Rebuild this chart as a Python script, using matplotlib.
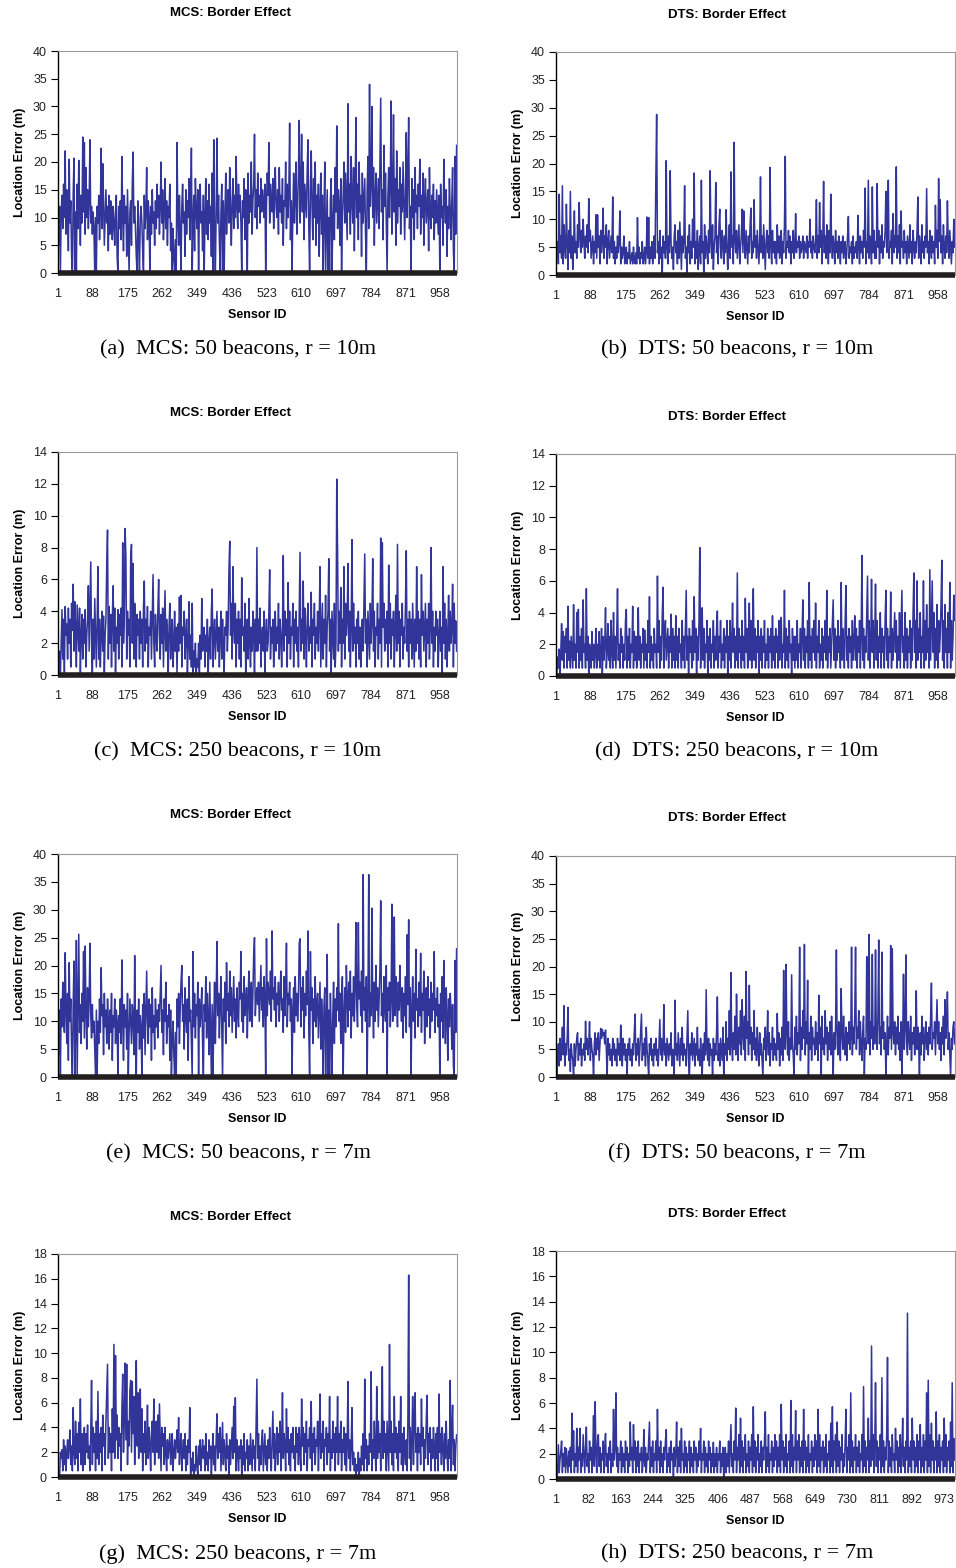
import matplotlib
matplotlib.use("Agg")
import matplotlib.pyplot as plt

# every other sensor (1, 3, 5, ..., 999); each row below covers 50 sensor ids
sensor_ids = list(range(1, 1000, 2))

mcs_50_r10 = [
    17, 5, 12, 0, 11, 14, 8, 16, 10, 22, 7, 15, 12, 4, 20.5, 9, 13, 3, 0, 14, 20.7, 0, 11, 0, 16,
    8, 20.3, 12, 5, 14, 9, 24.5, 11, 23.5, 7, 19, 10, 15, 8, 13, 24, 9, 12, 7, 11, 8, 0, 10, 0, 12,
    9, 14, 6, 11, 22.5, 8, 19.7, 13, 5, 10, 15, 9, 12, 4, 14, 7, 13, 10, 6, 12, 9, 5, 11, 14, 3,
    0, 12, 8, 13, 6, 21, 10, 4, 14, 9, 12, 3, 15, 7, 0, 11, 13, 5, 16, 21.8, 9, 12, 8, 3, 0,
    13, 6, 0, 10, 12, 9, 4, 0, 14, 8, 11, 19, 6, 13, 10, 0, 12, 7, 15, 9, 11, 5, 13, 8, 16,
    10, 14, 7, 12, 20, 9, 15, 6, 11, 17, 8, 13, 5, 12, 10, 16, 4, 9, 0, 8, 3, 0, 6, 0, 23.5,
    10, 5, 14, 8, 0, 12, 16, 9, 11, 3, 15, 7, 13, 10, 17, 6, 12, 22.5, 0, 9, 14, 4, 17, 11, 8,
    15, 0, 12, 16, 9, 11, 4, 14, 0, 10, 17, 7, 13, 6, 16, 9, 12, 3, 18, 0, 24, 8, 0, 11, 24.3,
    9, 14, 6, 0, 11, 16, 0, 13, 0, 10, 18, 7, 12, 15, 9, 19, 11, 5, 13, 17, 8, 14, 10, 21, 12,
    8, 16, 11, 14, 9, 0, 13, 10, 17, 6, 15, 12, 0, 18, 9, 14, 11, 20, 7, 13, 16, 25, 10, 15, 8,
    18, 12, 14, 9, 17, 11, 15, 13, 10, 16, 0, 12, 18, 14, 23.5, 9, 16, 13, 11, 17, 8, 14, 19, 12, 10,
    15, 7, 19, 11, 14, 9, 17, 5, 13, 12, 20, 8, 16, 10, 15, 27, 6, 13, 0, 11, 18, 9, 14, 20, 7,
    12, 18, 27.5, 9, 14, 25, 11, 20, 6, 16, 13, 10, 19, 24, 8, 0, 15, 22, 12, 6, 17, 10, 20, 5, 14,
    9, 16, 3, 12, 18, 7, 14, 0, 11, 20, 0, 8, 15, 0, 10, 0, 13, 17, 0, 9, 14, 6, 19, 11, 26.5,
    8, 15, 12, 5, 17, 0, 10, 14, 20, 9, 18, 12, 6, 30.5, 11, 16, 7, 21, 13, 9, 19, 4, 15, 28, 10,
    16, 6, 20, 11, 14, 3, 18, 9, 13, 17, 7, 0, 15, 21, 8, 34, 12, 16, 30, 10, 19, 5, 14, 18, 9,
    13, 17, 8, 20, 31.5, 11, 15, 6, 23, 12, 18, 9, 0, 14, 19, 10, 16, 31, 7, 13, 28.5, 11, 17, 5, 22,
    9, 15, 12, 19, 7, 16, 11, 20, 13, 6, 14, 25.3, 10, 18, 28, 8, 12, 0, 17, 10, 15, 6, 19, 11, 14,
    8, 16, 12, 20.5, 7, 14, 10, 18, 5, 13, 17, 9, 12, 15, 4, 19, 11, 8, 14, 10, 16, 6, 13, 9, 15,
    11, 7, 14, 0, 16, 10, 12, 5, 20.5, 13, 9, 15, 3, 12, 8, 17, 11, 6, 13, 19, 4, 0, 21, 7, 23,
]

dts_50_r10 = [
    8, 3, 6, 2, 14.5, 4, 7, 3, 16, 2, 9, 5, 3, 12.7, 6, 1, 8, 4, 15, 3, 7, 1, 5, 11.5, 4,
    6, 3, 9, 5, 13, 7, 4, 8, 5, 10, 6, 3, 7, 5, 9, 4, 13.7, 6, 8, 3, 5, 7, 2, 6, 4,
    10.8, 3, 10.8, 5, 7, 2, 8, 4, 6, 12, 3, 7, 5, 9, 2, 6, 8, 3, 5, 7, 4, 14, 3, 6, 2,
    5, 3, 7, 4, 6, 11.5, 2, 5, 3, 4, 7, 2, 3, 5, 2, 4, 3, 6, 2, 3, 4, 2, 5, 3, 2,
    4, 2, 10.3, 3, 5, 2, 4, 3, 6, 2, 3, 5, 2, 4, 10.4, 3, 10.3, 2, 5, 3, 6, 2, 4, 7, 3,
    17.5, 28.8, 4, 6, 2, 8, 3, 5, 0, 7, 4, 6, 3, 20.5, 5, 2, 7, 4, 18.7, 6, 3, 5, 1, 7, 9,
    4, 6, 2, 8, 3, 9.5, 5, 1, 7, 4, 6, 16, 3, 5, 0, 7, 4, 9, 2, 6, 3, 10, 5, 18.3, 2,
    6, 3, 8, 1, 5, 7, 2, 17, 4, 6, 0, 9, 3, 7, 5, 2, 8, 4, 18.7, 6, 3, 9, 1, 5, 7,
    16.6, 4, 7, 2, 9, 11.8, 5, 3, 8, 6, 2, 7, 4, 11.7, 5, 1, 6, 9, 3, 18.5, 5, 7, 2, 23.8, 6,
    4, 8, 3, 6, 9, 2, 5, 7, 11.8, 4, 11.5, 6, 3, 8, 5, 2, 7, 4, 9, 12, 3, 6, 4, 13.5, 5,
    7, 3, 8, 5, 2, 6, 17.6, 4, 7, 3, 9, 5, 1, 6, 8, 4, 7, 3, 19.3, 5, 2, 8, 4, 6, 3,
    6, 2, 9, 4, 7, 3, 5, 8, 2, 6, 4, 9, 21.3, 3, 6, 5, 8, 4, 7, 2, 6, 4, 8, 3, 5,
    11, 4, 6, 5, 7, 3, 6, 4, 5, 7, 3, 6, 5, 4, 7, 3, 6, 5, 10, 4, 6, 3, 7, 5, 4,
    6, 13.5, 3, 7, 4, 13, 5, 8, 2, 6, 16.8, 4, 7, 3, 9, 5, 2, 8, 4, 14.5, 6, 3, 7, 5, 2,
    8, 4, 6, 3, 7, 5, 2, 6, 4, 7, 3, 5, 6, 2, 4, 7, 10.5, 3, 5, 4, 6, 2, 7, 3, 5,
    4, 6, 3, 10.7, 5, 2, 7, 4, 6, 3, 8, 5, 15.6, 2, 6, 4, 17, 3, 7, 5, 2, 15.8, 4, 8, 3,
    6, 3, 16.4, 5, 8, 2, 7, 4, 9, 3, 6, 5, 8, 15, 4, 7, 17, 3, 6, 5, 8, 2, 11, 4, 7,
    5, 19.4, 3, 7, 4, 9, 2, 11.5, 5, 6, 3, 8, 4, 6, 2, 7, 5, 3, 9, 4, 6, 2, 8, 5, 3,
    6, 4, 8, 14, 3, 7, 5, 2, 9, 4, 6, 3, 7, 5, 15.5, 4, 6, 2, 8, 5, 3, 7, 4, 6, 2,
    12.5, 5, 8, 3, 17.3, 6, 13.5, 4, 7, 2, 9, 5, 3, 7, 4, 13.3, 6, 3, 8, 5, 2, 6, 4, 10, 5,
]

mcs_250_r10 = [
    2, 0, 1.5, 0, 2.2, 4.1, 1, 3.5, 0, 4.3, 2.5, 3.2, 1, 4.2, 2, 3.5, 0.5, 4.5, 2.8, 5.7, 1.5, 4.6, 3, 0.5, 4.4,
    3, 1.5, 4.2, 0, 2.5, 3.8, 1, 3.5, 2, 4.1, 0.5, 2.5, 3.5, 5.6, 1.5, 4.2, 7.1, 2, 0, 3.5, 1, 4.8, 2.5, 0.5, 3.3,
    6.8, 1, 3.5, 0.5, 2.5, 4, 1.5, 3.7, 0, 2.5, 3.5, 6.9, 9.1, 1, 4.3, 2, 3.8, 0.5, 3.5, 5.6, 1.5, 4.2, 0, 3, 2,
    4.1, 1, 3.8, 2.5, 4.2, 0.5, 8.3, 2, 3.5, 9.2, 7.4, 1, 4, 2.5, 3.5, 0.5, 7.4, 8.2, 2, 7, 1, 4.5, 3, 0.5, 3.8,
    2.5, 3.5, 1, 4, 2, 3.5, 0.5, 4.2, 5.9, 1.5, 3.5, 2, 4.3, 0.5, 3, 2.5, 4, 1, 3.5, 6.3, 2, 0.5, 3.8, 2.5, 1.5,
    4, 6, 2.5, 1, 3.8, 2, 4.2, 0.5, 3, 5.3, 1.5, 3.5, 2.5, 0, 3, 4.5, 1, 2.5, 3.5, 0.5, 2, 4, 1.5, 3, 0,
    3.2, 1.5, 4.9, 2, 5, 0.5, 3, 2.5, 4, 1, 2.5, 3.5, 0, 2, 4.6, 1, 2.5, 0.5, 4.5, 0, 1.5, 0.5, 2, 0, 1,
    0.5, 2, 0, 2.5, 1, 4.8, 1.5, 2, 3, 0.5, 2.5, 1.5, 3.5, 0, 2, 3, 1, 4, 5.4, 0.5, 2.5, 3.5, 1, 2.5, 4,
    1.5, 3, 0.5, 2.5, 4, 1, 3.5, 2, 0, 3, 2.5, 4, 1.5, 3, 6.6, 8.4, 2.5, 4.5, 1, 6.8, 3, 2, 4.5, 0.5, 3.5,
    2, 4, 1, 3.5, 0.5, 6.1, 2.5, 3, 1.5, 4.5, 0, 2.5, 3.5, 1, 4.8, 2, 0.5, 3, 1.5, 4, 2.5, 0, 3.5, 1.5, 8,
    1.5, 3.5, 2, 4.2, 0.5, 2.5, 3, 1.5, 4, 0, 2.5, 3.5, 1.5, 2, 4, 6.6, 1, 3, 2, 3.5, 0.5, 2.5, 4, 1.5, 3,
    2, 4.5, 1, 3.5, 2.5, 0.5, 3, 7.5, 1.5, 4, 2.5, 3.5, 0.5, 5.8, 2, 4, 1, 3, 2.5, 4.5, 0.5, 3.5, 2, 4, 1.5,
    3, 0.5, 4, 7.7, 1.5, 3.5, 2, 5.9, 1, 4.2, 2.5, 0.5, 3.5, 4.5, 1.5, 3, 2, 5.2, 0.5, 3.5, 2.5, 4.5, 1, 3, 2,
    4, 1.5, 3.5, 6.8, 0.5, 2.5, 4.5, 1, 3.5, 2, 5, 0.5, 3, 4, 7.3, 1.5, 3.5, 0, 4, 2.5, 1, 4.5, 0.5, 2, 12.3,
    7.8, 1.5, 4, 2, 5.5, 0.5, 3.5, 2, 6.8, 1, 4.5, 2.5, 3.5, 7, 1.5, 4, 0.5, 3, 8.5, 1.5, 4.5, 2, 3, 0.5, 3.5,
    2, 4, 1, 3, 0.5, 2.5, 3.5, 1.5, 4.5, 7.6, 2, 3.5, 0.5, 4, 2.5, 1, 4.5, 2, 3.5, 7.3, 1.5, 4, 0.5, 3, 2.5,
    4.5, 1, 3.5, 2, 8.6, 0.5, 8.3, 3, 4.5, 1.5, 3.5, 2, 4, 0.5, 6.9, 2, 4.5, 1, 3.5, 2.5, 4, 0.5, 3, 5, 1.5,
    8.2, 2, 4, 0.5, 3.5, 2.5, 4.5, 1, 3, 2, 4.5, 7.8, 1.5, 3.5, 0.5, 4, 2, 3.5, 1, 4.5, 2.5, 0.5, 3.5, 1.5, 6.8,
    2, 4, 1, 3.5, 0.5, 6.3, 2.5, 4, 1.5, 3, 4.5, 0.5, 3.5, 2, 4.5, 1, 3, 8, 2, 4, 0.5, 3, 1.5, 4, 2.5,
    3.5, 0.5, 2.5, 4, 1.5, 3, 0, 6.8, 2, 4.5, 1, 3.5, 0.5, 2.5, 5, 1.5, 4, 2, 3, 5.7, 0.5, 4.5, 2, 3.4, 1.5,
]

dts_250_r10 = [
    1.3, 0, 1.2, 0.5, 1.7, 0, 1.5, 3.3, 1, 2.8, 0.5, 2.5, 1.5, 3, 0.5, 4.4, 1, 2.2, 0.5, 2.5, 1.5, 0.5, 4.5, 1, 2,
    0.5, 4, 1.5, 4.2, 0.5, 2.5, 1, 3, 0.5, 4.8, 1.5, 2, 0.5, 5.5, 1, 2.5, 0, 2, 1.5, 0.5, 2.8, 1, 2, 0.5, 1.5,
    3, 0.5, 2, 1, 2.8, 0.5, 1.5, 3, 0, 2.5, 1, 2, 4.3, 0.5, 1.5, 3.3, 1, 2.5, 0.5, 3.5, 1.5, 0.5, 4, 1, 2.5,
    0.5, 2.5, 5.5, 1, 2, 0.5, 3, 1.5, 2.5, 0.5, 2, 1, 3.5, 4.2, 0.5, 2.5, 1, 3, 0.5, 2, 1.5, 4.4, 0.5, 2.8, 1,
    2.5, 0.5, 1.5, 4.3, 1, 2.5, 0.5, 2, 1.5, 3, 0.5, 2.9, 1, 2, 0.5, 3.5, 1.5, 5, 0.5, 2.5, 1, 2, 0.5, 3, 1.5,
    2, 0.5, 6.3, 1.5, 3.5, 0.5, 2.5, 1, 3.8, 5.6, 0.5, 2.5, 3.5, 1, 2, 3, 0.5, 2.5, 1.5, 3.9, 0.5, 3, 1, 2.5, 0.5,
    3.8, 1, 2.5, 0.5, 3, 1.5, 2, 0.5, 3.5, 1, 2.5, 0.5, 3, 5.4, 1, 2.5, 0, 3, 1.5, 2.5, 0.5, 3.5, 1, 5, 1.5,
    3, 0, 2.5, 1, 3.5, 8.1, 0.5, 2, 4.3, 1, 3, 0.5, 2, 1.5, 3.5, 0, 2.5, 1, 3, 0.5, 2, 1.5, 3.5, 0.5, 2.5,
    1, 3, 4.1, 0.5, 2.5, 1.5, 3.5, 0.5, 2, 1, 3, 0.5, 2.5, 1.5, 3.5, 0, 2.5, 1, 3.5, 0.5, 2, 4.6, 1.5, 3, 0.5,
    2.5, 1, 6.5, 0.5, 3, 1.5, 2.5, 0.5, 3.5, 1, 2.5, 0.5, 4.9, 1.5, 3, 0.5, 2, 4.6, 1, 3.5, 0.5, 2.5, 5.5, 1, 3,
    0.5, 2.5, 1.5, 3.5, 0, 2.5, 1, 3, 0.5, 2.5, 1.5, 3.5, 0.5, 2, 1, 3, 0.5, 2.5, 1.5, 3, 0.5, 3.8, 1, 2.5, 0.5,
    3, 1.5, 2.5, 0.5, 3.5, 1, 2.5, 3.7, 0.5, 2, 1.5, 5.4, 0.5, 3, 1, 2.5, 0.5, 3.5, 1.5, 2, 0, 3, 1, 2.5, 0.5,
    2.5, 1, 3.5, 0.5, 2, 1.5, 3, 0.5, 2.5, 4.8, 1, 3, 0.5, 2.5, 1.5, 3.5, 0.5, 5.9, 1, 2.5, 0.5, 3, 1.5, 3.5, 1,
    4.6, 0.5, 2.5, 1.5, 3.5, 0.5, 2, 1, 3, 0.5, 2.5, 1.5, 3.5, 1, 5.4, 0.5, 2.5, 1.5, 3, 0.5, 2, 3.5, 4.8, 1, 3,
    0.5, 2.5, 1, 3.5, 1.5, 2.5, 0.5, 5.9, 1, 3, 2, 0.5, 3.5, 5.7, 1, 2.5, 0.5, 3, 1.5, 2.5, 0.5, 3.5, 1, 2, 3.8,
    1, 3, 0.5, 2.5, 1.5, 3.5, 0.5, 2.5, 7.6, 1, 3, 0.5, 2.5, 1.5, 4, 6.3, 1, 3.5, 0.5, 2, 6.1, 1.5, 3.5, 0.5, 2.5,
    5.8, 1, 3.5, 0.5, 2.5, 1.5, 4, 0.5, 3, 1.5, 2.5, 0.5, 3.5, 5.4, 1, 3, 0.5, 2.5, 1.5, 5.3, 0.5, 3, 1, 2.5, 4,
    1.5, 3.5, 0.5, 2.5, 1, 4, 0.5, 3, 5.4, 1.5, 2.5, 0.5, 4, 1, 3, 0.5, 2.5, 1.5, 3.5, 0.5, 3, 1, 4, 6.5, 1.5,
    3.5, 0.5, 6, 1, 3, 1.5, 4, 0.5, 2.5, 1.5, 6, 0.5, 3.5, 1, 4.5, 1.5, 3, 0.5, 6.7, 1, 3.5, 6, 1.5, 4, 0.5,
    3, 1, 4.5, 0.5, 3.5, 1.5, 2.5, 4.5, 7.3, 1, 3.5, 0.5, 4.5, 1.5, 3, 0.5, 4, 1.5, 5.9, 0.5, 3.5, 1, 2.5, 5.1, 3.5,
]

mcs_50_r7 = [
    16, 4, 12, 0, 14, 9, 17, 11, 8, 22.3, 12, 6, 15, 3, 20.5, 10, 14, 5, 0, 13, 20.8, 0, 8, 24.5, 0,
    12, 25.6, 8, 13, 6, 15, 10, 22.5, 7, 23.5, 12, 5, 16, 9, 14, 24, 11, 7, 13, 8, 10, 5, 0, 12, 0,
    10, 6, 14, 8, 19.6, 11, 13, 4, 15, 9, 12, 6, 14, 10, 5, 12, 8, 15, 3, 11, 9, 14, 6, 12, 10,
    0, 11, 8, 14, 6, 21, 10, 3, 13, 9, 12, 5, 15, 0, 8, 14, 10, 6, 13, 11, 4, 21.8, 9, 0, 12,
    8, 14, 5, 11, 9, 0, 13, 7, 15, 4, 12, 19, 10, 6, 14, 9, 13, 3, 16, 8, 11, 5, 14, 9, 12,
    7, 13, 10, 15, 20, 8, 12, 4, 14, 10, 17, 6, 11, 9, 13, 3, 12, 0, 7, 10, 4, 0, 8, 0, 14,
    9, 15, 6, 12, 17, 20, 10, 13, 5, 16, 11, 8, 14, 3, 18, 10, 12, 6, 0, 22.5, 9, 15, 7, 13, 11,
    17, 0, 14, 9, 12, 16, 6, 0, 13, 10, 18, 7, 15, 11, 4, 17, 9, 0, 13, 0, 10, 17, 6, 14, 24.3,
    11, 15, 7, 13, 18, 9, 0, 14, 10, 17, 6, 20.5, 12, 15, 9, 19, 11, 16, 8, 13, 18, 10, 14, 7, 16,
    12, 9, 17, 14, 22.5, 10, 15, 8, 18, 11, 13, 16, 7, 14, 19, 10, 12, 17, 9, 15, 22, 25, 11, 14, 16,
    13, 17, 10, 15, 20, 12, 16, 9, 18, 14, 0, 24.8, 11, 17, 15, 13, 19, 10, 26.2, 14, 16, 12, 18, 9, 15,
    13, 17, 10, 15, 19, 12, 14, 8, 18, 11, 16, 24, 9, 15, 13, 17, 10, 14, 0, 12, 16, 8, 18, 11, 15,
    10, 14, 24, 24.8, 9, 16, 12, 18, 7, 15, 11, 19, 13, 26.2, 8, 0, 22.5, 12, 16, 6, 14, 10, 18, 9, 13,
    15, 7, 12, 17, 5, 14, 10, 0, 13, 16, 0, 9, 22, 0, 12, 0, 15, 8, 0, 11, 17, 6, 14, 9, 16,
    12, 27.5, 10, 15, 6, 13, 18, 0, 11, 16, 8, 20, 14, 9, 17, 12, 19, 7, 15, 11, 18, 10, 16, 27.7, 13,
    9, 27.7, 14, 17, 11, 19, 8, 36.3, 12, 16, 10, 18, 0, 14, 36.3, 9, 15, 11, 30.3, 13, 7, 17, 10, 20, 12,
    16, 9, 14, 19, 31.6, 11, 15, 8, 18, 13, 10, 20, 0, 16, 12, 17, 9, 14, 31, 10, 15, 28.7, 11, 18, 13,
    9, 17, 12, 20, 14, 10, 16, 7, 15, 11, 18, 8, 25.5, 13, 28.2, 9, 16, 0, 12, 18, 10, 15, 7, 22.9, 12,
    14, 9, 17, 11, 22.2, 8, 15, 12, 19, 6, 13, 16, 9, 18, 11, 14, 7, 17, 10, 15, 12, 22.5, 8, 14, 11,
    16, 9, 13, 0, 15, 10, 18, 7, 20.9, 12, 6, 16, 11, 3, 14, 9, 15, 12, 5, 13, 2, 0, 20.9, 8, 23,
]

dts_50_r7 = [
    8, 0, 4, 6, 2, 7, 3, 5, 9, 4, 12.9, 2, 6, 4, 7, 12.6, 3, 5, 1, 6, 4, 3, 0, 6, 2,
    5, 7, 8, 3, 6, 4, 7, 2, 5, 4, 6, 3, 10.1, 5, 7, 4, 6, 10, 3, 7, 5, 4, 0, 6, 8,
    4, 7, 5, 8, 3, 6, 8.8, 7, 8.6, 7.5, 8, 6, 8.5, 5, 0, 7, 4, 6, 3, 5, 2, 7, 4, 6, 3,
    5, 2, 7, 4, 6, 3, 9.4, 5, 2, 7, 4, 6, 3, 5, 0, 6, 4, 7, 3, 5, 2, 6, 4, 8, 11.4,
    3, 6, 4, 7, 2, 5, 8, 11.4, 3, 6, 4, 7, 2, 9, 5, 3, 0, 6, 4, 7, 3, 5, 2, 6, 4,
    7, 3, 5, 2, 6, 10.4, 4, 7, 3, 5, 13.1, 4, 6, 2, 7, 5, 3, 6, 4, 8, 2, 5, 3, 0, 13.9,
    4, 6, 3, 8, 5, 2, 7, 4, 9, 3, 6, 4, 5, 2, 7, 12, 3, 0, 6, 4, 8, 3, 5, 7, 2,
    6, 4, 9, 3, 5, 2, 7, 4, 0, 6, 3, 8, 4, 15.8, 5, 3, 7, 2, 6, 4, 5, 0, 7, 3, 6,
    4, 8, 14.5, 3, 6, 2, 7, 5, 3, 9, 0, 6, 4, 10, 3, 7, 5, 12, 4, 18.9, 6, 3, 8, 5, 11,
    4, 15, 7, 3, 9, 6, 12, 4, 14, 8, 5, 11, 3, 19.1, 7, 10, 4, 16.6, 6, 9, 3, 8, 5, 12, 4,
    7, 3, 9, 5, 2, 8, 4, 6, 3, 0, 7, 5, 9, 3, 6, 12, 4, 8, 2, 6, 5, 9, 3, 7, 4,
    6, 3, 11.5, 5, 8, 2, 7, 4, 9, 3, 19.3, 6, 5, 20.4, 8, 4, 10, 3, 7, 5, 18.5, 6, 4, 0, 9,
    5, 11, 4, 8, 6, 23.5, 3, 9, 5, 12, 7, 24, 4, 10, 6, 17.5, 0, 8, 5, 11, 3, 9, 6, 7, 4,
    10, 5, 8, 3, 14.8, 6, 9, 0, 11, 5, 7, 4, 12, 6, 9, 3, 8, 5, 10, 4, 11, 6, 0, 8, 5,
    9, 23, 6, 4, 10, 7, 3, 16, 8, 5, 11, 6, 4, 9, 3, 8, 6, 10, 5, 7, 23.5, 4, 9, 6, 11,
    23.5, 5, 9, 7, 12, 4, 10, 6, 3, 8, 11, 0, 7, 5, 21.8, 9, 6, 25.8, 4, 10, 7, 22.2, 5, 9, 6,
    23, 8, 5, 11, 24.8, 6, 9, 4, 22.6, 7, 10, 5, 8, 0, 6, 11, 4, 9, 7, 23.8, 5, 23.2, 8, 6, 10,
    4, 9, 6, 11, 5, 8, 3, 10, 0, 7, 18.6, 5, 9, 22.1, 6, 4, 10, 7, 5, 11, 3, 8, 6, 9, 4,
    7, 15.6, 5, 9, 6, 0, 8, 4, 11, 6, 9, 3, 7, 10, 5, 8, 4, 9, 6, 11, 17, 5, 8, 7, 10,
    4, 9, 14, 6, 10, 5, 8, 3, 9, 6, 11, 4, 14, 7, 10, 15.4, 5, 8, 4, 0, 7, 5, 9, 10, 6,
]

mcs_250_r7 = [
    0, 0.5, 0, 2, 1.5, 2.2, 0.5, 3, 1, 2.5, 0.5, 2, 3, 1.5, 2.5, 3.8, 1, 2.5, 0.5, 5.6, 2, 1, 4.5, 1.5, 3.5,
    0.5, 4.4, 2, 6.3, 1, 3.5, 0.5, 2.5, 4, 1, 3.5, 2, 4.2, 1.5, 2.5, 0.5, 3.5, 7.8, 1, 4, 2, 3.5, 0.5, 4.5, 1.5,
    6.9, 1, 3.5, 2, 4, 0.5, 5, 2.5, 3.5, 1, 4.5, 6.7, 9.1, 1.5, 4, 2, 3.5, 0.5, 5.5, 2, 10.7, 1.5, 9.8, 3, 5,
    1.5, 4, 2.5, 3.5, 0.5, 5.5, 8.3, 2, 4.5, 9.2, 3, 9.1, 1, 4.5, 2.5, 7, 7.8, 2, 7.7, 3.5, 6.5, 1, 4.5, 9.4, 2.5,
    6.8, 1.5, 4, 7.1, 2, 5.5, 0.5, 3.5, 2, 4.5, 1, 3, 5.8, 1.5, 4, 2.5, 0.5, 3.5, 4.5, 2, 6.3, 1, 3.5, 4.5, 2,
    5, 1.5, 5.9, 3, 0.5, 4, 2.5, 3.5, 1, 4, 2, 0.5, 3, 1.5, 2.5, 3.5, 1, 2.5, 3.5, 0.5, 2, 3, 1.5, 2.5, 3.8,
    2, 4.8, 1, 2.5, 3.5, 0.5, 2, 3, 1.5, 3.5, 0.5, 2.5, 1, 3, 2, 5.6, 0, 1.5, 0.5, 2, 0, 1, 0.5, 2.5, 1,
    0, 2.5, 1, 3, 0.5, 2, 3, 1.5, 2.5, 0.5, 3.5, 1, 2, 0.5, 3, 1.5, 2.5, 0, 2, 3.5, 1, 2.5, 0.5, 3, 5.1,
    1.5, 3.5, 2, 4, 0.5, 2.5, 4.4, 1, 3, 2, 0.5, 3.5, 1.5, 2.5, 0, 3, 1, 2.5, 4, 1.5, 5.7, 2, 6.4, 0.5, 3,
    2, 0.5, 2.5, 1.5, 3, 0, 2.5, 1, 3.5, 0.5, 2, 1.5, 3, 0.5, 2.5, 1, 3.5, 2, 0.5, 3, 1.5, 2.5, 0.5, 4, 7.9,
    1.5, 3.5, 0.5, 2.5, 1, 3, 3.8, 0.5, 2, 3.5, 1, 2.5, 0.5, 3, 1.5, 4, 2, 0.5, 3, 5.3, 1.5, 3.5, 0.5, 2.5, 4,
    1, 3.5, 2, 4.5, 0.5, 3, 6.8, 1.5, 3.5, 2.5, 0.5, 5.5, 2, 4, 1, 3, 0.5, 3.5, 2, 4, 1.5, 2.5, 0.5, 4, 2,
    3.5, 1, 4, 2, 0.5, 6.3, 2.5, 4, 1, 3.5, 2, 4.5, 0.5, 3, 2.5, 4, 1.5, 6.1, 0.5, 3.5, 2, 4, 1, 3, 2.5,
    4.5, 0.5, 3, 6.7, 1.5, 3.5, 2, 4.5, 0.5, 3, 2.5, 4, 1, 3.5, 2, 6.5, 0.5, 3, 1.5, 4.5, 2, 3.5, 0.5, 4, 2,
    6.5, 1, 3.5, 2, 4.5, 0.5, 3, 2, 4, 1, 3.5, 0.5, 2.5, 7.7, 1.5, 3, 0.5, 2.5, 5.6, 1, 2, 0.5, 1.5, 0, 1,
    0.5, 2, 0, 1.5, 0.5, 2.5, 1, 3.5, 0.5, 7.9, 1.5, 3, 0.5, 2.5, 1, 3.5, 2, 8.5, 0.5, 3, 1.5, 4.5, 2, 0.5, 7.3,
    1.5, 4.5, 2, 3.5, 0.5, 4, 8.9, 1.5, 4.5, 2, 3.5, 0.5, 4.5, 2.5, 0.5, 10.7, 2, 4.5, 1, 3.5, 0.5, 6.5, 2, 4, 1.5,
    3.5, 0.5, 4.5, 2, 6.5, 1, 3.5, 0.5, 4, 2, 1, 3, 0.5, 4.5, 16.3, 1.5, 4, 0.5, 3, 6.5, 1, 4.5, 6.8, 2, 3.5,
    0.5, 4, 2, 3.5, 1, 6.3, 2.5, 4, 0.5, 3, 1.5, 4.5, 6.6, 1, 3.5, 2, 4, 0.5, 3, 1.5, 4, 2.5, 0.5, 3.5, 1.5,
    4, 0.5, 6.7, 2, 3.5, 1, 4, 2.5, 0.5, 3.5, 1.5, 4.5, 2, 0.5, 3, 1.5, 7.8, 0.5, 4, 5.8, 1, 3, 0.5, 2.5, 3.4,
]

dts_250_r7 = [
    1.3, 0, 0.5, 2.7, 0.5, 1.5, 2.2, 3, 0.5, 2, 1, 2.5, 0.5, 2.4, 1.5, 0.5, 2.2, 1, 2.5, 0.5, 5.2, 1.5, 3.8, 0.5, 2,
    1, 4, 0.5, 2.5, 1.5, 4, 0.5, 2, 1, 3.5, 2, 0.5, 2.5, 4.1, 1, 2, 0.5, 3, 1.5, 2.5, 0.5, 2, 5, 1, 6.1,
    2, 0.5, 3, 3.5, 1, 2.5, 0.5, 2, 1.5, 3, 0.5, 2.5, 3.6, 1, 2, 0.5, 2.5, 1.5, 3, 0.5, 2, 1, 5.5, 1.5, 2.5,
    6.8, 1, 2.5, 0.5, 2, 1.5, 3, 0.5, 2.5, 1, 2, 0.5, 3, 1.5, 2.5, 0.5, 2, 1, 4.5, 1.5, 2.5, 0.5, 4.3, 1.5, 3,
    0.5, 2.5, 1, 3, 0.5, 2, 1.5, 2.5, 0.5, 1.5, 3.9, 1, 2.5, 0.5, 2, 1.5, 3, 4.5, 0.5, 2.5, 1, 3, 0.5, 2, 1.5,
    3, 0.5, 5.5, 1.5, 2.5, 0.5, 3, 1, 2, 0.5, 2.5, 1.5, 3, 3.9, 0.5, 2, 1, 2.5, 0.5, 3, 1.5, 2, 0, 2.5, 1,
    2, 4.5, 0.5, 2.5, 1, 3, 0.5, 4, 1.5, 2, 0.5, 3, 1, 2.5, 0.5, 2, 1.5, 3, 0.5, 2.5, 1, 2, 0.5, 3, 1.5,
    2.5, 0.5, 2, 1, 3, 1.5, 4, 0.5, 2, 1.5, 3, 0.5, 2.5, 1, 2, 0.5, 3, 1.5, 2.5, 0.5, 2, 1, 2.9, 0.5, 2,
    1, 2.5, 0.5, 2, 1.5, 3, 0.5, 2, 1, 2.5, 0, 1.5, 2.5, 0.5, 2, 1, 3, 0.5, 2.5, 4.3, 1, 2, 0.5, 3, 1.5,
    5.6, 0.5, 2.5, 1.5, 3.5, 0.5, 4.8, 1, 3, 0.5, 2.5, 1.5, 3.5, 0.5, 2, 1, 3, 0.5, 2.5, 1.5, 3.5, 0.5, 5.7, 1, 3,
    0.5, 2.5, 1.5, 3.5, 0.5, 2, 1, 3, 0.5, 2.5, 1.5, 3, 5.3, 0.5, 2.5, 1, 3.5, 0.5, 2, 1.5, 3, 0.5, 2.5, 1, 3.5,
    1.5, 3, 0.5, 2.5, 1, 3.5, 0.5, 5.9, 1.5, 3, 0.5, 2.5, 1, 3.5, 0.5, 2, 1.5, 3, 0.5, 6.2, 1, 3.5, 0.5, 2.5, 1.5,
    5.4, 0.5, 3, 1.5, 3.5, 0.5, 2.5, 1, 3, 0.5, 5.5, 1.5, 3, 0.5, 2.5, 1, 3.5, 0.5, 2, 1.5, 3, 0.5, 2.5, 1, 3.5,
    1.5, 3, 0.5, 5.5, 1, 3.5, 0.5, 2.5, 1.5, 3, 0.5, 2.5, 1, 3.5, 0.5, 2, 1.5, 3, 0.5, 4.4, 1, 5.7, 0.5, 3, 1.5,
    3.5, 0.5, 4.5, 1, 3, 0.5, 2.5, 1.5, 3.5, 0.5, 2, 1, 3, 5.5, 0.5, 2.5, 1.5, 3.5, 0.5, 6.8, 1, 3, 0.5, 2.5, 1.5,
    3.5, 0.5, 2.5, 1, 3, 0.5, 2, 1.5, 3.5, 0.5, 7.3, 1, 3, 0.5, 2.5, 1.5, 4.8, 0.5, 3, 1, 10.5, 1.5, 3.5, 0.5, 2.5,
    7.6, 1, 3, 0.5, 2.5, 1.5, 3.5, 0.5, 8, 1, 3, 0.5, 2.5, 1.5, 3.5, 9.6, 0.5, 3, 1, 2.5, 0.5, 3.5, 1.5, 2, 0.5,
    4, 1.5, 3, 0.5, 2.5, 1, 3.5, 0.5, 2, 4.8, 1, 2.5, 0.5, 3, 1.5, 13.1, 0.5, 2.5, 1, 3, 0.5, 4.8, 1.5, 3, 0.5,
    2.5, 1, 3.5, 0.5, 3, 1.5, 4.3, 0.5, 2.5, 1, 3.5, 0.5, 3, 1.5, 6.8, 0.5, 7.8, 1, 3.5, 0.5, 4.4, 1.5, 3, 0.5, 2.5,
    1.5, 5.3, 0.5, 3, 1, 3.5, 0.5, 2.5, 1.5, 3, 0.5, 4.8, 1, 3.5, 0.5, 2.5, 1.5, 3, 0.5, 4.5, 1, 7.6, 0.5, 3.2, 1.5,
]

titles = ["MCS: Border Effect", "DTS: Border Effect"] * 4
captions = [
    "(a)  MCS: 50 beacons, r = 10m", "(b)  DTS: 50 beacons, r = 10m",
    "(c)  MCS: 250 beacons, r = 10m", "(d)  DTS: 250 beacons, r = 10m",
    "(e)  MCS: 50 beacons, r = 7m", "(f)  DTS: 50 beacons, r = 7m",
    "(g)  MCS: 250 beacons, r = 7m", "(h)  DTS: 250 beacons, r = 7m",
]
series = [mcs_50_r10, dts_50_r10, mcs_250_r10, dts_250_r10,
          mcs_50_r7, dts_50_r7, mcs_250_r7, dts_250_r7]
y_max = [40, 40, 14, 14, 40, 40, 18, 18]
y_step = [5, 5, 2, 2, 5, 5, 2, 2]
x_step = [87, 87, 87, 87, 87, 87, 87, 81]

W, H = 956, 1568
# axes boxes in pixels: left, top, bottom
boxes = [(58, 51, 273), (556, 52, 275),
         (58, 452, 675), (556, 454, 676),
         (58, 854, 1077), (556, 856, 1077),
         (58, 1254, 1477), (556, 1251, 1479)]
title_y = [13, 15, 413, 417, 815, 818, 1217, 1214]
cap_y = [350, 350, 752, 752, 1154, 1154, 1554, 1554]

sans = "Liberation Sans"
serif = "Liberation Serif"
line_color = "#31359a"

fig = plt.figure(figsize=(W / 100, H / 100), dpi=100)

for k in range(8):
    left, top, bottom = boxes[k]
    ax = fig.add_axes([left / W, 1 - bottom / H, 399 / W, (bottom - top) / H])
    ax.plot(sensor_ids, series[k], color=line_color, lw=1.1)
    # thick black zero line along the bottom
    ax.axhline(0, color="#231f20", lw=4, clip_on=False, solid_capstyle="butt")
    ax.set_xlim(1, 1000)
    ax.set_ylim(0, y_max[k])
    ax.set_xticks(list(range(1, 1001, x_step[k])))
    ax.set_yticks(list(range(0, y_max[k] + 1, y_step[k])))
    ax.tick_params(axis="x", length=0, pad=11, labelsize=9,
                   labelcolor="#222222")
    ax.tick_params(axis="y", length=5, width=0.8, pad=3, labelsize=9,
                   labelcolor="#222222")
    for lab in ax.get_xticklabels() + ax.get_yticklabels():
        lab.set_fontfamily(sans)
    ax.spines["left"].set_color("black")
    ax.spines["left"].set_linewidth(1.0)
    for s in ("top", "right"):
        ax.spines[s].set_color("#9a9a9a")
        ax.spines[s].set_linewidth(0.8)
    ax.spines["bottom"].set_visible(False)
    ax.set_xlabel("Sensor ID", fontfamily=sans, fontweight="bold",
                  fontsize=9, labelpad=6)
    ax.set_ylabel("Location Error (m)", fontfamily=sans, fontweight="bold",
                  fontsize=9, labelpad=5)

    cx = left + 172 if k % 2 == 0 else left + 171
    fig.text(cx / W, 1 - title_y[k] / H, titles[k], ha="center", va="center",
             fontfamily=sans, fontweight="bold", fontsize=9.5)
    capx = 238 if k % 2 == 0 else 737
    fig.text(capx / W, 1 - cap_y[k] / H, captions[k], ha="center",
             va="center", fontfamily=serif, fontsize=16)

fig.savefig("out.png", dpi=100)
